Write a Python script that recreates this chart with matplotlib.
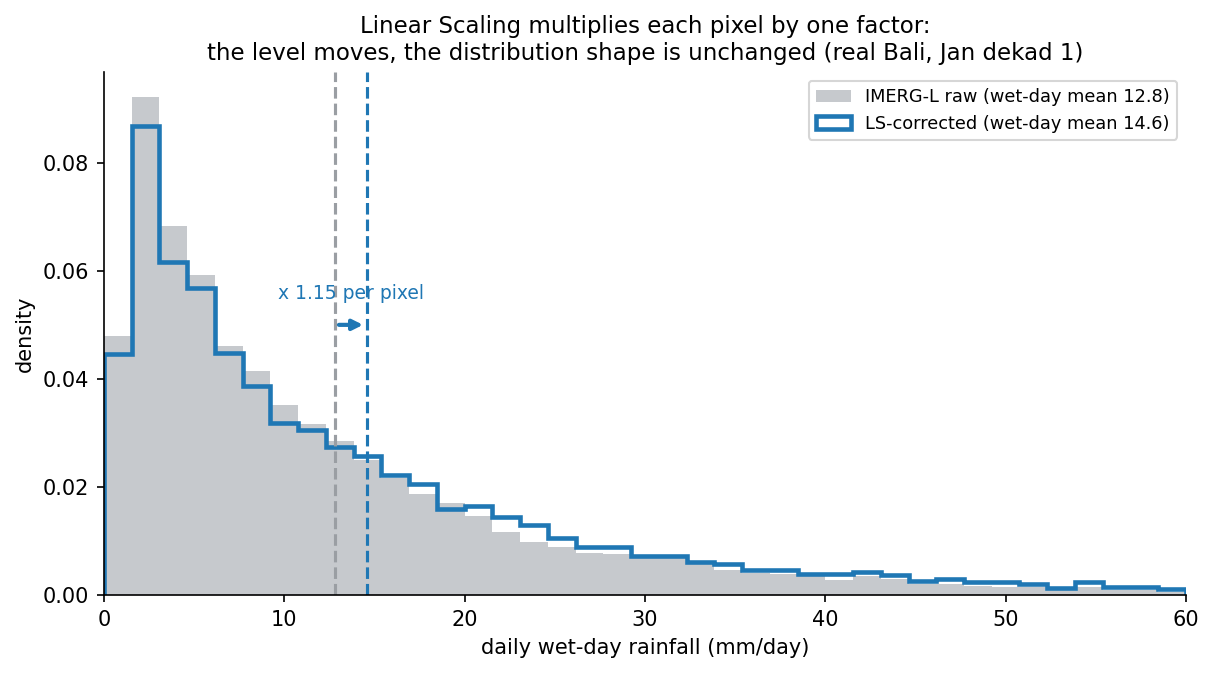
import numpy as np
import matplotlib
matplotlib.use("Agg")
import matplotlib.pyplot as plt

# 39 equal bins from 0 to 60 mm/day
bin_edges = np.linspace(0, 60, 40)

raw_density = [0.0480, 0.0922, 0.0683, 0.0593, 0.0461, 0.0415, 0.0352, 0.0317, 0.0285, 0.0250,
               0.0216, 0.0187, 0.0170, 0.0147, 0.0117, 0.0098, 0.0088, 0.0078, 0.0076, 0.0071,
               0.0070, 0.0059, 0.0046, 0.0040, 0.0038, 0.0036, 0.0028, 0.0035, 0.0029, 0.0020,
               0.0021, 0.0017, 0.0014, 0.0014, 0.0009, 0.0014, 0.0009, 0.0009, 0.0006]
ls_density = [0.0446, 0.0869, 0.0617, 0.0569, 0.0448, 0.0387, 0.0318, 0.0306, 0.0274, 0.0257,
              0.0222, 0.0205, 0.0160, 0.0165, 0.0144, 0.0129, 0.0106, 0.0089, 0.0088, 0.0072,
              0.0072, 0.0061, 0.0057, 0.0046, 0.0046, 0.0039, 0.0039, 0.0043, 0.0036, 0.0026,
              0.0029, 0.0024, 0.0024, 0.0020, 0.0013, 0.0024, 0.0014, 0.0014, 0.0011]

raw_mean = 12.8
ls_mean = 14.6
factor = 1.15

centers = (bin_edges[:-1] + bin_edges[1:]) / 2

fig = plt.figure(figsize=(1213 / 150, 673 / 150), dpi=150)
ax = fig.add_axes([0.0857, 0.116, 0.892, 0.777])

ax.hist(centers, bins=bin_edges, weights=raw_density, color="#c6c9cd",
        label="IMERG-L raw (wet-day mean %.1f)" % raw_mean)
ax.hist(centers, bins=bin_edges, weights=ls_density, histtype="step",
        color="#1f77b4", linewidth=2.2,
        label="LS-corrected (wet-day mean %.1f)" % ls_mean)

ax.axvline(raw_mean, color="#9a9ea3", linestyle="--", linewidth=1.5)
ax.axvline(ls_mean, color="#1f77b4", linestyle="--", linewidth=1.5)

ax.annotate("", xy=(ls_mean, 0.050), xytext=(raw_mean, 0.050),
            arrowprops=dict(arrowstyle="-|>", color="#1f77b4", lw=2))
ax.text((raw_mean + ls_mean) / 2, 0.054, "x %.2f per pixel" % factor,
        color="#1f77b4", ha="center", va="bottom", fontsize=9)

ax.set_xlim(0, 60)
ax.set_ylim(0, max(raw_density) * 1.05)
ax.set_xlabel("daily wet-day rainfall (mm/day)")
ax.set_ylabel("density")
ax.set_title("Linear Scaling multiplies each pixel by one factor:\n"
             "the level moves, the distribution shape is unchanged (real Bali, Jan dekad 1)",
             fontsize=11)
ax.spines["top"].set_visible(False)
ax.spines["right"].set_visible(False)
ax.legend(loc="upper right", fontsize=8.5)

fig.savefig("out.png", dpi=150)
